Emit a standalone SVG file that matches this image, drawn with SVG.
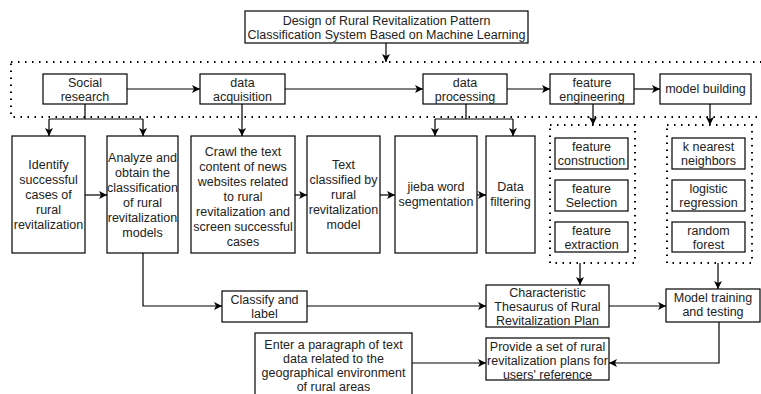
<svg xmlns="http://www.w3.org/2000/svg" width="761" height="394" viewBox="0 0 761 394">
<style>
.b{fill:#fff;stroke:#000;stroke-width:1.2}
.d{fill:none;stroke:#000;stroke-width:2;stroke-dasharray:1.5 5.5}
.c{fill:none;stroke:#000;stroke-width:1.2}
text{font-family:"Liberation Sans",Arial,sans-serif;font-size:12.5px;fill:#222;text-anchor:middle}
</style>
<defs>
<marker id="a" markerUnits="userSpaceOnUse" markerWidth="9" markerHeight="8" refX="8" refY="4" orient="auto">
<path d="M0,0 L8,4 L0,8 L2,4 z" fill="#000"/>
</marker>
</defs>
<rect width="761" height="394" fill="#fff"/>
<rect class="d" x="11" y="62" width="755" height="55"/>
<rect class="d" x="550" y="125" width="85" height="138"/>
<rect class="d" x="667" y="125" width="85" height="138"/>
<g id="connectors">
<path class="c" d="M386,43V62" marker-end="url(#a)"/>
<path class="c" d="M127,89H200" marker-end="url(#a)"/>
<path class="c" d="M285,89H423" marker-end="url(#a)"/>
<path class="c" d="M507,89H550" marker-end="url(#a)"/>
<path class="c" d="M634,89H660" marker-end="url(#a)"/>
<path class="c" d="M85,104V119M49,119H143"/>
<path class="c" d="M49,119V136" marker-end="url(#a)"/>
<path class="c" d="M143,119V136" marker-end="url(#a)"/>
<path class="c" d="M242,104V136" marker-end="url(#a)"/>
<path class="c" d="M466,104V119M435,119H513"/>
<path class="c" d="M435,119V136" marker-end="url(#a)"/>
<path class="c" d="M513,119V136" marker-end="url(#a)"/>
<path class="c" d="M593,104V125" marker-end="url(#a)"/>
<path class="c" d="M710,104V125" marker-end="url(#a)"/>
<path class="c" d="M85,195H107" marker-end="url(#a)"/>
<path class="c" d="M295,195H307" marker-end="url(#a)"/>
<path class="c" d="M380,195H395" marker-end="url(#a)"/>
<path class="c" d="M477,195H486" marker-end="url(#a)"/>
<path class="c" d="M580,263V285" marker-end="url(#a)"/>
<path class="c" d="M718,263V289" marker-end="url(#a)"/>
<path class="c" d="M143,253V306H222" marker-end="url(#a)"/>
<path class="c" d="M307,306H486" marker-end="url(#a)"/>
<path class="c" d="M609,306H666" marker-end="url(#a)"/>
<path class="c" d="M719,322V363H609" marker-end="url(#a)"/>
<path class="c" d="M412,363H486" marker-end="url(#a)"/>
</g>
<g id="title"><rect class="b" x="245" y="11" width="283" height="32"/><text x="386.5" y="25">Design of Rural Revitalization Pattern</text><text x="386.5" y="38.5">Classification System Based on Machine Learning</text></g>
<g id="social"><rect class="b" x="43" y="74" width="84" height="30"/><text x="85" y="87">Social</text><text x="85" y="101">research</text></g>
<g id="acq"><rect class="b" x="200" y="74" width="85" height="30"/><text x="242.5" y="87">data</text><text x="242.5" y="101">acquisition</text></g>
<g id="proc"><rect class="b" x="423" y="74" width="84" height="30"/><text x="465" y="87">data</text><text x="465" y="101">processing</text></g>
<g id="feateng"><rect class="b" x="550" y="74" width="84" height="30"/><text x="592" y="87">feature</text><text x="592" y="101">engineering</text></g>
<g id="modelbuild"><rect class="b" x="660" y="74" width="91" height="30"/><text x="705.5" y="93">model building</text></g>
<g id="identify"><rect class="b" x="12" y="136" width="73" height="117"/><text x="48.5" y="169">Identify</text><text x="48.5" y="184">successful</text><text x="48.5" y="199">cases of</text><text x="48.5" y="214">rural</text><text x="48.5" y="229">revitalization</text></g>
<g id="analyze"><rect class="b" x="107" y="136" width="71" height="117"/><text x="142.5" y="162">Analyze and</text><text x="142.5" y="177">obtain the</text><text x="142.5" y="192">classification</text><text x="142.5" y="207">of rural</text><text x="142.5" y="222">revitalization</text><text x="142.5" y="237">models</text></g>
<g id="crawl"><rect class="b" x="191" y="136" width="104" height="117"/><text x="243" y="156">Crawl the text</text><text x="243" y="171">content of news</text><text x="243" y="186">websites related</text><text x="243" y="201">to rural</text><text x="243" y="216">revitalization and</text><text x="243" y="231">screen successful</text><text x="243" y="246">cases</text></g>
<g id="textcls"><rect class="b" x="307" y="136" width="73" height="117"/><text x="343.5" y="169">Text</text><text x="343.5" y="184">classified by</text><text x="343.5" y="199">rural</text><text x="343.5" y="214">revitalization</text><text x="343.5" y="229">model</text></g>
<g id="jieba"><rect class="b" x="395" y="136" width="82" height="117"/><text x="436" y="191">jieba word</text><text x="436" y="206">segmentation</text></g>
<g id="filter"><rect class="b" x="486" y="136" width="49" height="117"/><text x="510.5" y="191">Data</text><text x="510.5" y="206">filtering</text></g>
<g id="fc"><rect class="b" x="555" y="138" width="73" height="31"/><text x="591.5" y="151">feature</text><text x="591.5" y="165">construction</text></g>
<g id="fs"><rect class="b" x="555" y="180" width="73" height="31"/><text x="591.5" y="193">feature</text><text x="591.5" y="207">Selection</text></g>
<g id="fe"><rect class="b" x="555" y="222" width="73" height="30"/><text x="591.5" y="235">feature</text><text x="591.5" y="249">extraction</text></g>
<g id="knn"><rect class="b" x="672" y="138" width="73" height="31"/><text x="708.5" y="151">k nearest</text><text x="708.5" y="165">neighbors</text></g>
<g id="lr"><rect class="b" x="672" y="180" width="73" height="31"/><text x="708.5" y="193">logistic</text><text x="708.5" y="207">regression</text></g>
<g id="rf"><rect class="b" x="672" y="222" width="73" height="30"/><text x="708.5" y="235">random</text><text x="708.5" y="249">forest</text></g>
<g id="classify"><rect class="b" x="222" y="291" width="85" height="31"/><text x="264.5" y="304">Classify and</text><text x="264.5" y="318">label</text></g>
<g id="thesaurus"><rect class="b" x="486" y="285" width="123" height="42"/><text x="547.5" y="297">Characteristic</text><text x="547.5" y="311">Thesaurus of Rural</text><text x="547.5" y="325">Revitalization Plan</text></g>
<g id="train"><rect class="b" x="666" y="289" width="94" height="33"/><text x="713" y="302">Model training</text><text x="713" y="316">and testing</text></g>
<g id="provide"><rect class="b" x="486" y="338" width="123" height="42"/><text x="547.5" y="351">Provide a set of rural</text><text x="547.5" y="365">revitalization plans for</text><text x="547.5" y="379">users' reference</text></g>
<g id="enter"><rect class="b" x="255" y="333" width="157" height="66"/><text x="333.5" y="349">Enter a paragraph of text</text><text x="333.5" y="363">data related to the</text><text x="333.5" y="377">geographical environment</text><text x="333.5" y="391">of rural areas</text></g>
</svg>
